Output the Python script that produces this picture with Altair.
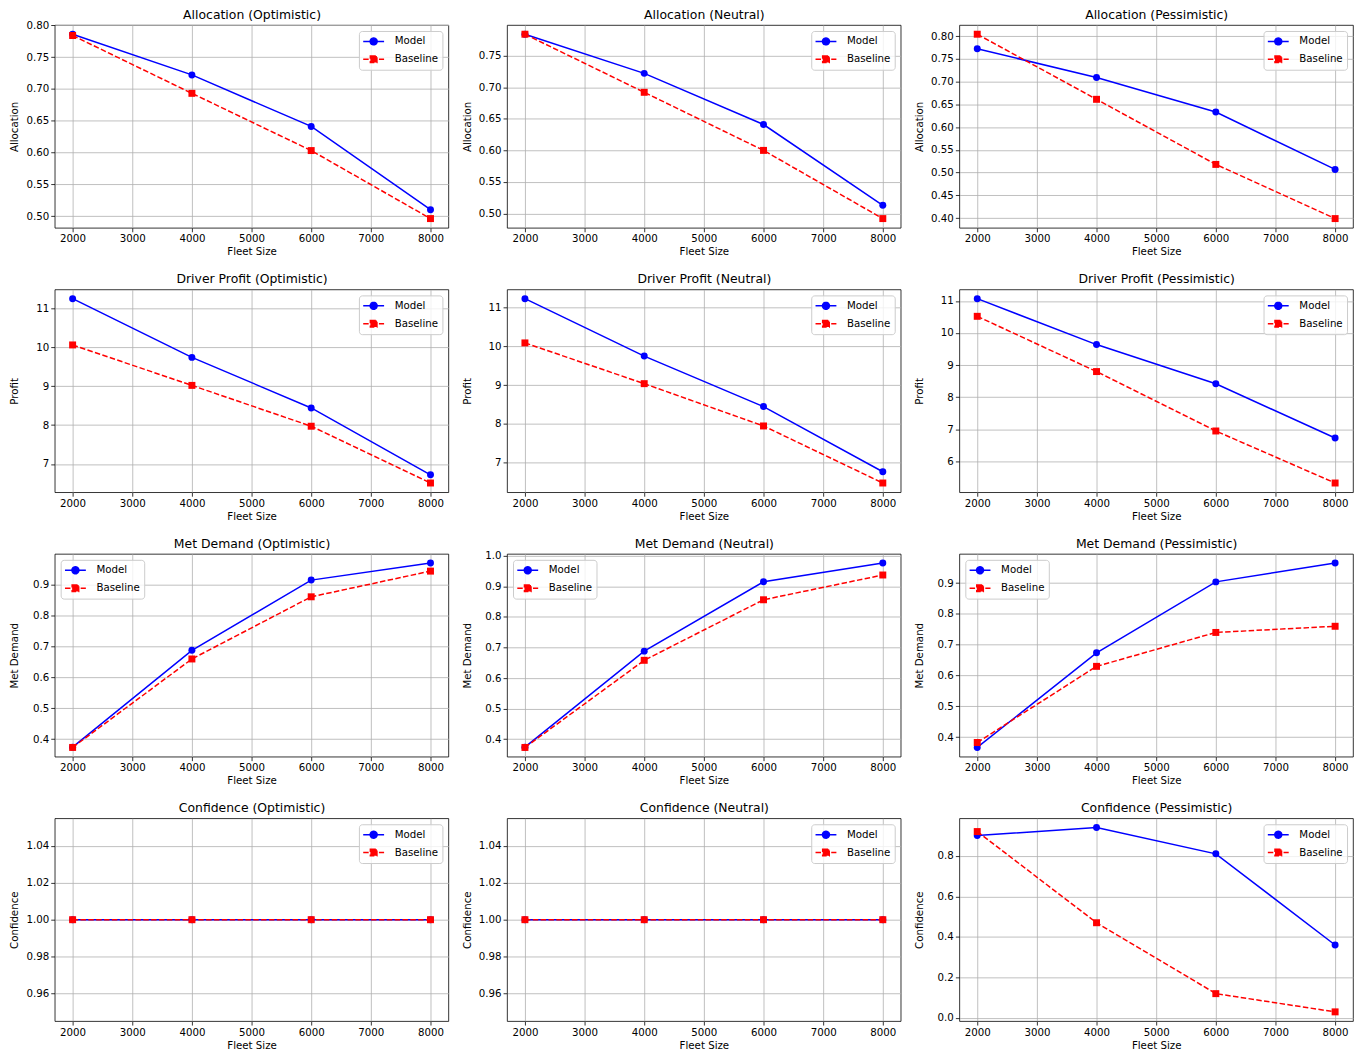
import math
import altair as alt
import pandas as pd

# ---------------- data ----------------
fleet = [2000, 4000, 6000, 8000]
fleet_ticks = [2000, 3000, 4000, 5000, 6000, 7000, 8000]
series_names = ["Model", "Baseline"]
scenarios = ["Optimistic", "Neutral", "Pessimistic"]

alloc_opt_model = [0.786, 0.722, 0.641, 0.510]
alloc_opt_base = [0.784, 0.693, 0.603, 0.496]
alloc_neu_model = [0.784, 0.722, 0.641, 0.513]
alloc_neu_base = [0.784, 0.692, 0.600, 0.492]
alloc_pes_model = [0.772, 0.709, 0.633, 0.507]
alloc_pes_base = [0.804, 0.661, 0.518, 0.399]

profit_opt_model = [11.25, 9.74, 8.44, 6.72]
profit_opt_base = [10.06, 9.02, 7.97, 6.51]
profit_neu_model = [11.23, 9.75, 8.45, 6.77]
profit_neu_base = [10.09, 9.04, 7.95, 6.48]
profit_pes_model = [11.07, 9.64, 8.42, 6.73]
profit_pes_base = [10.52, 8.80, 6.95, 5.33]

met_opt_model = [0.374, 0.687, 0.914, 0.969]
met_opt_base = [0.373, 0.659, 0.860, 0.943]
met_neu_model = [0.374, 0.688, 0.915, 0.976]
met_neu_base = [0.373, 0.658, 0.856, 0.937]
met_pes_model = [0.367, 0.674, 0.904, 0.965]
met_pes_base = [0.383, 0.630, 0.740, 0.760]

conf_opt_model = [1.0, 1.0, 1.0, 1.0]
conf_opt_base = [1.0, 1.0, 1.0, 1.0]
conf_neu_model = [1.0, 1.0, 1.0, 1.0]
conf_neu_base = [1.0, 1.0, 1.0, 1.0]
conf_pes_model = [0.900, 0.940, 0.810, 0.360]
conf_pes_base = [0.920, 0.470, 0.120, 0.030]

rows = [
    ("Allocation", "Allocation",
     [(alloc_opt_model, alloc_opt_base), (alloc_neu_model, alloc_neu_base), (alloc_pes_model, alloc_pes_base)],
     [(0.05, ".2f"), (0.05, ".2f"), (0.05, ".2f")], "top-right"),
    ("Driver Profit", "Profit",
     [(profit_opt_model, profit_opt_base), (profit_neu_model, profit_neu_base), (profit_pes_model, profit_pes_base)],
     [(1, "d"), (1, "d"), (1, "d")], "top-right"),
    ("Met Demand", "Met Demand",
     [(met_opt_model, met_opt_base), (met_neu_model, met_neu_base), (met_pes_model, met_pes_base)],
     [(0.1, ".1f"), (0.1, ".1f"), (0.1, ".1f")], "top-left"),
    ("Confidence", "Confidence",
     [(conf_opt_model, conf_opt_base), (conf_neu_model, conf_neu_base), (conf_pes_model, conf_pes_base)],
     [(0.02, ".2f"), (0.02, ".2f"), (0.2, ".1f")], "top-right"),
]

# ---------------- style ----------------
FONT = "DejaVu Sans"
W, H = 396, 204
BLUE, RED = "blue", "red"
DASH = [5.5, 2.4]
FS = 10.3

MODEL_SYM = "M-1.03,0L2.47,0M1.30,0A0.58,0.58,0,1,1,0.14,0A0.58,0.58,0,1,1,1.30,0Z"
BASE_SYM = "M-1.03,0L2.47,0M0.17,-0.55L1.27,-0.55L1.27,0.55L0.17,0.55Z"


def mpl_domain(vals):
    lo, hi = min(vals), max(vals)
    if hi == lo:
        lo -= 0.05 * abs(lo)
        hi += 0.05 * abs(hi)
    pad = 0.05 * (hi - lo)
    return [lo - pad, hi + pad]


def tick_values(lo, hi, step):
    start = math.ceil(lo / step - 1e-9)
    end = math.floor(hi / step + 1e-9)
    return [round(k * step, 6) for k in range(start, end + 1)]


def panel(title, ylabel, scen, model_vals, base_vals, step, fmt, orient):
    df = pd.DataFrame({
        "fleet": fleet * 2,
        "value": model_vals + base_vals,
        "series": ["Model"] * len(fleet) + ["Baseline"] * len(fleet),
    })
    lo, hi = mpl_domain(model_vals + base_vals)
    yt = tick_values(lo, hi, step)
    xscale = alt.Scale(domain=[1700, 8300], nice=False, zero=False)
    yscale = alt.Scale(domain=[lo, hi], nice=False, zero=False)

    x_axis = alt.Axis(orient="bottom", values=fleet_ticks, format="d", title="Fleet Size",
                      titlePadding=3, labelFlush=False, labelOverlap=False)
    y_axis = alt.Axis(orient="left", values=yt, format=fmt, title=ylabel, titlePadding=5,
                      minExtent=30, maxExtent=30, labelOverlap=False)

    layers = []
    first = True
    for s, shape, color in [("Model", "circle", BLUE), ("Baseline", "square", RED)]:
        enc = dict(
            x=alt.X("fleet:Q", scale=xscale, axis=x_axis if first else None),
            y=alt.Y("value:Q", scale=yscale, axis=y_axis),
        )
        first = False
        sub = alt.Chart(df).transform_filter(alt.datum.series == s)
        if s == "Model":
            layers.append(sub.mark_line(strokeWidth=1.5, color=color).encode(**enc))
        else:
            layers.append(sub.mark_line(strokeWidth=1.5, color=color, strokeDash=DASH).encode(**enc))
        enc2 = dict(x=alt.X("fleet:Q", scale=xscale, axis=None),
                    y=alt.Y("value:Q", scale=yscale, axis=y_axis))
        layers.append(sub.mark_point(filled=True, shape=shape, size=49, opacity=1, color=color).encode(**enc2))

    # legend + panel-title layer: no rows survive the filter; the legend comes from explicit
    # scale domains, the panel title is drawn as the title of a label-less top axis.
    leg = alt.Legend(title=None, orient=orient, offset=6)
    title_axis = alt.Axis(orient="top", title=f"{title} ({scen})", labels=False, ticks=False,
                          domain=False, grid=False, titlePadding=3.5, titleFontSize=12.5,
                          minExtent=0, maxExtent=0)
    legend_layer = alt.Chart(df).transform_filter("false").mark_point(
        filled=True, opacity=1, strokeWidth=1.5
    ).encode(
        x=alt.X("fleet:Q", scale=xscale, axis=title_axis),
        fill=alt.Fill("series:N", scale=alt.Scale(domain=series_names, range=[BLUE, RED]), legend=leg),
        stroke=alt.Stroke("series:N", scale=alt.Scale(domain=series_names, range=[BLUE, RED]), legend=leg),
        shape=alt.Shape("series:N", scale=alt.Scale(domain=series_names, range=[MODEL_SYM, BASE_SYM]), legend=leg),
        strokeDash=alt.StrokeDash("series:N", scale=alt.Scale(domain=series_names, range=[[1, 0], DASH]), legend=leg),
    )
    layers.append(legend_layer)
    return alt.layer(*layers).properties(width=W, height=H)


CH = ["fill", "stroke", "shape", "strokeDash"]
row_charts = []
for (title, ylabel, pairs, ticks, orient) in rows:
    panels = []
    for scen, (mv, bv), (step, fmt) in zip(scenarios, pairs, ticks):
        panels.append(panel(title, ylabel, scen, mv, bv, step, fmt, orient))
    row_charts.append(
        alt.hconcat(*panels, spacing=12)
        .resolve_scale(**{c: "independent" for c in CH})
        .resolve_legend(**{c: "independent" for c in CH})
    )

chart = (
    alt.vconcat(*row_charts, spacing=15)
    .resolve_scale(**{c: "independent" for c in CH})
    .resolve_legend(**{c: "independent" for c in CH})
    .properties(padding={"left": 1, "top": -3, "right": 0, "bottom": 0})
    .configure(font=FONT)
    .configure_view(stroke="black", strokeWidth=0.8)
    .configure_axis(
        labelFontSize=FS, titleFontSize=FS, titleFontWeight="normal",
        labelColor="black", titleColor="black", labelFont=FONT, titleFont=FONT,
        tickColor="black", tickWidth=0.8, tickSize=4, labelPadding=2,
        gridColor="#b0b0b0", gridWidth=0.8, gridOpacity=1, domain=False,
    )
    .configure_legend(
        labelFontSize=FS, labelFont=FONT, labelColor="black",
        symbolSize=144, symbolStrokeWidth=1.5, rowPadding=4, padding=3.5, labelOffset=18.5,
        fillColor="rgba(255,255,255,0.8)", strokeColor="#cccccc", cornerRadius=3,
        labelLimit=200,
    )
)

chart.save("out.html", embed_options={"renderer": "svg", "actions": False})
